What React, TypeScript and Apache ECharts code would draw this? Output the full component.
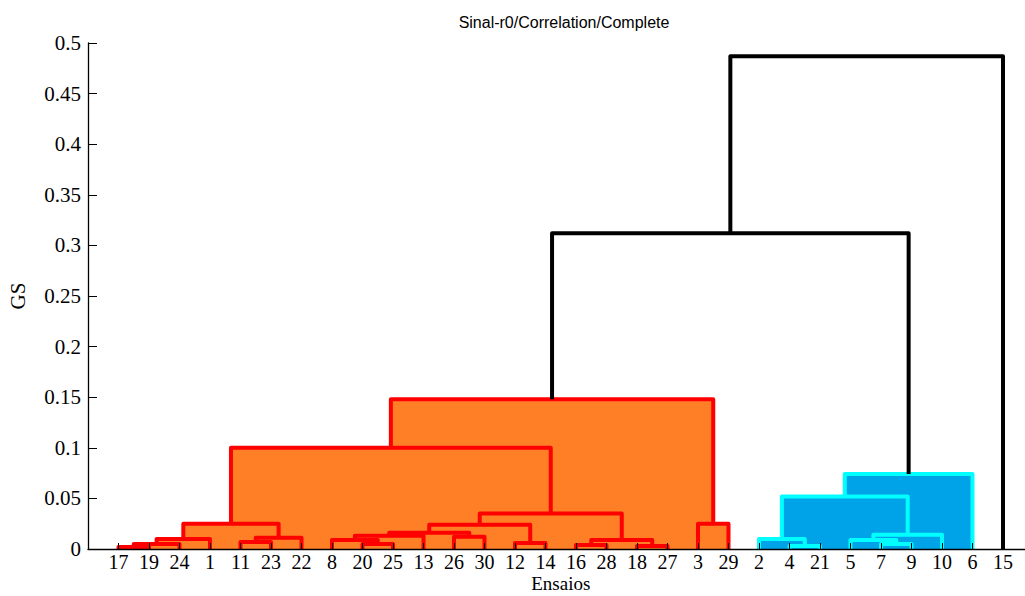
import React, { useEffect, useRef } from "react";
import * as echarts from "echarts";

// Leaf order along the x axis (labels of the trials)
const leafLabels = [17, 19, 24, 1, 11, 23, 22, 8, 20, 25, 13, 26, 30, 12, 14, 16, 28, 18, 27, 3, 29, 2, 4, 21, 5, 7, 9, 10, 6, 15];

// Linkage (MATLAB style): merge k creates node id 31 + k
const mergeLeft = [17, 31, 32, 11, 34, 33, 20, 8, 38, 26, 39, 12, 41, 16, 18, 44, 43, 36, 3, 48, 4, 2, 7, 5, 54, 52, 56, 50, 58];
const mergeRight = [19, 24, 1, 23, 22, 35, 25, 37, 13, 30, 40, 14, 42, 28, 27, 45, 46, 47, 29, 49, 21, 51, 9, 53, 10, 55, 6, 57, 15];
const mergeHeight = [0.002, 0.005, 0.01, 0.007, 0.011, 0.025, 0.005, 0.009, 0.013, 0.012, 0.016, 0.006, 0.024, 0.004, 0.003, 0.009, 0.035, 0.1, 0.025, 0.148, 0.003, 0.01, 0.005, 0.009, 0.014, 0.052, 0.074, 0.312, 0.487];

// links at or above this height are drawn black
const colorThreshold = 0.3;

const titleText = "Sinal-r0/Correlation/Complete";
const xName = "Ensaios";
const yName = "GS";

const fillColors = ["#FF7F27", "#00A2E8"];
const edgeColors = ["#FF0000", "#00FFFF"];

function buildLinks() {
  const N = leafLabels.length;
  const nodeX: Record<number, number> = {};
  const nodeH: Record<number, number> = {};
  const parent: Record<number, number> = {};
  leafLabels.forEach((lab, i) => {
    nodeX[lab] = i + 1;
    nodeH[lab] = 0;
  });
  mergeLeft.forEach((a, k) => {
    const id = N + 1 + k;
    const b = mergeRight[k];
    nodeX[id] = (nodeX[a] + nodeX[b]) / 2;
    nodeH[id] = mergeHeight[k];
    parent[a] = id;
    parent[b] = id;
  });
  const roots: number[] = [];
  mergeHeight.forEach((h, k) => {
    const id = N + 1 + k;
    const p = parent[id];
    if (h < colorThreshold && (p === undefined || nodeH[p] >= colorThreshold)) roots.push(id);
  });
  roots.sort((a, b) => nodeX[a] - nodeX[b]);
  const colorOf: Record<number, number> = {};
  for (let k = mergeHeight.length - 1; k >= 0; k--) {
    const id = N + 1 + k;
    if (mergeHeight[k] >= colorThreshold) {
      colorOf[id] = -1;
    } else {
      const p = parent[id];
      if (p !== undefined && colorOf[p] !== undefined && colorOf[p] >= 0) colorOf[id] = colorOf[p];
      else colorOf[id] = roots.indexOf(id);
    }
  }
  return mergeLeft.map((a, k) => {
    const b = mergeRight[k];
    const [l, r] = nodeX[a] <= nodeX[b] ? [a, b] : [b, a];
    return [nodeX[l], nodeH[l], nodeX[r], nodeH[r], mergeHeight[k], colorOf[N + 1 + k]];
  });
}

export default function App() {
  const ref = useRef<HTMLDivElement>(null);
  useEffect(() => {
    if (!ref.current) return;
    const chart = echarts.init(ref.current, undefined, { renderer: "svg" });
    const links = buildLinks();
    const N = leafLabels.length;
    const serif = "'Liberation Serif', 'Times New Roman', serif";

    const fillItem = (params: any, api: any) => {
      const c = api.value(5);
      if (c < 0) return { type: "group", children: [] };
      const pl = api.coord([api.value(0), api.value(4)]);
      const pr = api.coord([api.value(2), api.value(4)]);
      const base = api.coord([api.value(0), 0])[1];
      return {
        type: "polygon",
        shape: { points: [[pl[0], base], pl, pr, [pr[0], base]] },
        style: { fill: fillColors[c], stroke: "none" },
      };
    };
    const edgeItem = (params: any, api: any) => {
      const c = api.value(5);
      const p1 = api.coord([api.value(0), api.value(1)]);
      const p2 = api.coord([api.value(0), api.value(4)]);
      const p3 = api.coord([api.value(2), api.value(4)]);
      const p4 = api.coord([api.value(2), api.value(3)]);
      return {
        type: "polyline",
        shape: { points: [p1, p2, p3, p4] },
        style: {
          stroke: c < 0 ? "#000000" : edgeColors[c],
          lineWidth: 4,
          fill: "none",
          lineJoin: "round",
        },
      };
    };

    chart.setOption({
      animation: false,
      backgroundColor: "#ffffff",
      title: {
        text: titleText,
        left: 559,
        top: 9,
        textAlign: "center",
        textStyle: { fontFamily: "'Liberation Sans', Arial, sans-serif", fontSize: 16, fontWeight: "normal", color: "#000" },
      },
      grid: { left: 88, top: 43, bottom: 47, right: -8.5, containLabel: false, outerBoundsMode: "none" },
      xAxis: {
        type: "value",
        min: 0,
        max: N + 1,
        interval: 1,
        z: 5,
        name: xName,
        nameLocation: "middle",
        nameGap: 25,
        nameMoveOverlap: false,
        nameTextStyle: { fontFamily: serif, fontSize: 19, color: "#000" },
        axisLine: { show: true, onZero: false, lineStyle: { color: "#000", width: 1.3 } },
        axisTick: { show: true, inside: true, length: 6, lineStyle: { color: "#000", width: 1 } },
        axisLabel: {
          formatter: (v: number) => (v >= 1 && v <= N ? String(leafLabels[Math.round(v) - 1]) : ""),
          fontFamily: serif,
          fontSize: 20,
          color: "#000",
          margin: 3,
        },
        splitLine: { show: false },
      },
      yAxis: {
        type: "value",
        min: 0,
        max: 0.5,
        interval: 0.05,
        z: 5,
        name: yName,
        nameLocation: "middle",
        nameGap: 60,
        nameMoveOverlap: false,
        nameTextStyle: { fontFamily: serif, fontSize: 21, color: "#000" },
        axisLine: { show: true, lineStyle: { color: "#000", width: 1.3 } },
        axisTick: { show: true, inside: true, length: 9, lineStyle: { color: "#000", width: 1 } },
        axisLabel: { fontFamily: serif, fontSize: 21, color: "#000", margin: 7 },
        splitLine: { show: false },
      },
      series: [
        {
          type: "custom",
          renderItem: fillItem,
          data: links,
          encode: { x: [0, 2], y: [1, 3, 4] },
          clip: false,
          z: 1,
        },
        {
          type: "custom",
          renderItem: edgeItem,
          data: links,
          encode: { x: [0, 2], y: [1, 3, 4] },
          clip: false,
          z: 2,
        },
      ],
    });
    return () => chart.dispose();
  }, []);
  return <div ref={ref} style={{ position: "fixed", left: 0, top: 0, width: 1025, height: 596 }} />;
}
